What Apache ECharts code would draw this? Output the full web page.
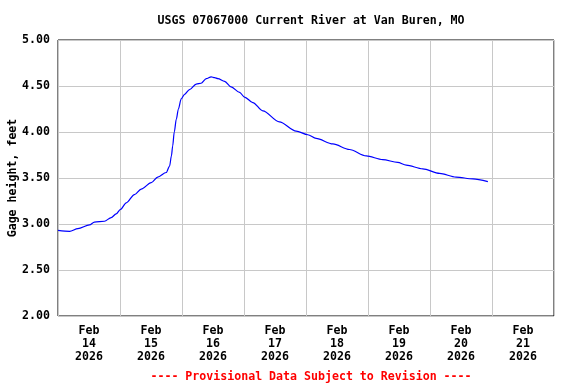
<!DOCTYPE html>
<html>
<head>
<meta charset="utf-8">
<script src="https://cdn.jsdelivr.net/npm/echarts@6/dist/echarts.min.js"></script>
<style>html,body{margin:0;padding:0;background:#fff}#c{width:576px;height:384px}</style>
</head>
<body>
<div id="c"></div>
<script>
// Hours since Feb 14 2026 00:00
const hours = [0, 4.5, 7.7, 12.2, 14.1, 18.0, 20.6, 22.5, 24.2, 26.4, 29.6, 32.2, 36.1, 38.6, 41.9, 43.2, 43.9, 44.4, 45.0, 45.8, 46.6, 47.7, 49.0, 50.9, 53.5, 55.4, 57.4, 59.3, 60.6, 61.9, 64.5, 67.0, 70.3, 72.2, 75.4, 79.3, 85.7, 92.2, 96.7, 99.9, 106.4, 112.8, 119.3, 125.7, 131.5, 134.8, 141.2, 147.7, 154.1, 160.6, 166.4];
const gage = [2.93, 2.92, 2.95, 2.99, 3.02, 3.03, 3.07, 3.11, 3.16, 3.23, 3.32, 3.38, 3.45, 3.51, 3.56, 3.63, 3.74, 3.85, 4.00, 4.14, 4.25, 4.36, 4.41, 4.46, 4.52, 4.53, 4.58, 4.60, 4.59, 4.58, 4.55, 4.49, 4.43, 4.38, 4.32, 4.23, 4.11, 4.01, 3.97, 3.93, 3.87, 3.81, 3.74, 3.70, 3.67, 3.64, 3.60, 3.55, 3.51, 3.49, 3.46];
const dayLabels = ['Feb\n14\n2026', 'Feb\n15\n2026', 'Feb\n16\n2026', 'Feb\n17\n2026', 'Feb\n18\n2026', 'Feb\n19\n2026', 'Feb\n20\n2026', 'Feb\n21\n2026'];
const yTicks = [2.00, 2.50, 3.00, 3.50, 4.00, 4.50, 5.00];

const FONT = 'DejaVu Sans Mono';
const chart = echarts.init(document.getElementById('c'), null, {renderer: 'canvas'});
chart.setOption({
  animation: false,
  backgroundColor: '#fff',
  title: [{
    text: 'USGS 07067000 Current River at Van Buren, MO',
    left: 306, top: 10, textAlign: 'center',
    textStyle: {fontFamily: FONT, fontWeight: 'bold', fontSize: 11.6, color: '#000'}
  }, {
    text: '---- Provisional Data Subject to Revision ----',
    left: 306, top: 366, textAlign: 'center',
    textStyle: {fontFamily: FONT, fontWeight: 'bold', fontSize: 11.6, color: '#ff0000'}
  }],
  grid: {left: 58, top: 40, width: 496, height: 276, show: true, borderColor: '#000', borderWidth: 1, backgroundColor: '#fff', containLabel: false, outerBoundsMode: 'none'},
  xAxis: [{
    type: 'value', min: 0, max: 192, interval: 24, position: 'top',
    axisLabel: {show: false}, axisTick: {show: false}, axisLine: {show: false},
    splitLine: {show: true, lineStyle: {color: '#c8c8c8', width: 1}}
  }, {
    type: 'category', data: dayLabels, boundaryGap: true, position: 'bottom',
    axisTick: {show: false}, axisLine: {show: false}, splitLine: {show: false},
    axisLabel: {fontFamily: FONT, fontWeight: 'bold', fontSize: 11.6, color: '#000', lineHeight: 13, margin: 8, interval: 0}
  }],
  yAxis: {
    type: 'value', min: 2, max: 5, interval: 0.5,
    name: 'Gage height, feet', nameLocation: 'middle', nameGap: 39, nameRotate: 90, nameMoveOverlap: false,
    nameTextStyle: {fontFamily: FONT, fontWeight: 'bold', fontSize: 11.6, color: '#000'},
    axisLine: {show: false}, axisTick: {show: false},
    axisLabel: {fontFamily: FONT, fontWeight: 'bold', fontSize: 11.6, color: '#000', margin: 8,
      formatter: v => { const t = yTicks.find(x => Math.abs(x - v) < 1e-6); return (t !== undefined ? t : v).toFixed(2); }},
    splitLine: {show: true, lineStyle: {color: '#c8c8c8', width: 1}}
  },
  series: [{
    type: 'line', xAxisIndex: 0,
    data: hours.map((h, i) => [h, gage[i]]),
    showSymbol: false, smooth: 0.3, smoothMonotone: 'x',
    lineStyle: {color: '#0000ff', width: 1.2}
  }]
});
</script>
</body>
</html>
